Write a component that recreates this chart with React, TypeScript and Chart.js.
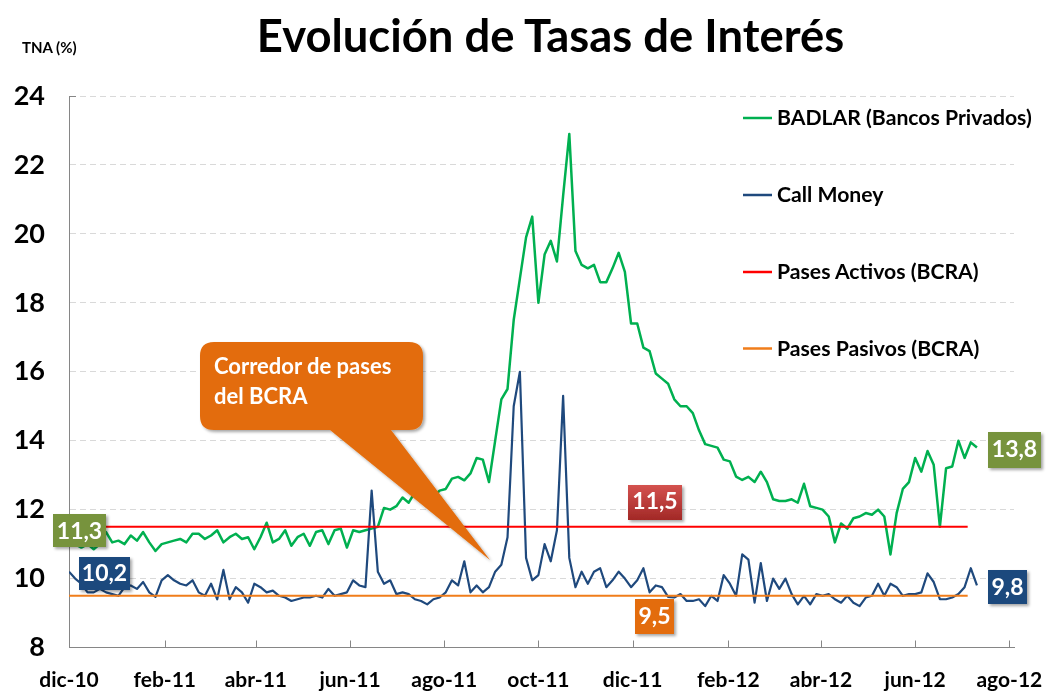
import React, { useEffect, useRef } from 'react';
import { Chart, registerables } from 'chart.js';

Chart.register(...registerables);

// Days counted from 1-dic-2010; observations sampled every 4 days
const OBS_STEP = 4;
const tickDays = [0, 62, 121, 182, 243, 304, 365, 427, 487, 548, 609];
const tickLabels = ['dic-10', 'feb-11', 'abr-11', 'jun-11', 'ago-11', 'oct-11', 'dic-11', 'feb-12', 'abr-12', 'jun-12', 'ago-12'];
const yTicks = [8, 10, 12, 14, 16, 18, 20, 22, 24];

const badlar = [
  11.3, 11.0, 10.9, 11.0, 10.85, 11.0, 11.35, 11.05, 11.1, 11.0,
  11.25, 11.1, 11.35, 11.05, 10.8, 11.0, 11.05, 11.1, 11.15, 11.05,
  11.3, 11.3, 11.15, 11.25, 11.4, 11.05, 11.2, 11.3, 11.15, 11.2,
  10.85, 11.2, 11.62, 11.05, 11.15, 11.4, 10.95, 11.2, 11.3, 10.95,
  11.35, 11.4, 11.0, 11.4, 11.45, 10.9, 11.4, 11.35, 11.4, 11.45,
  11.5, 12.05, 12.0, 12.1, 12.35, 12.2, 12.5, 12.45, 12.6, 12.4,
  12.55, 12.6, 12.9, 12.95, 12.85, 13.05, 13.5, 13.45, 12.8, 14.0,
  15.2, 15.5, 17.5, 18.7, 19.9, 20.5, 18.0, 19.4, 19.8, 19.2,
  21.1, 22.9, 19.5, 19.1, 19.0, 19.1, 18.6, 18.6, 19.0, 19.45,
  18.9, 17.4, 17.4, 16.7, 16.6, 15.95, 15.8, 15.65, 15.2, 15.0,
  15.0, 14.8, 14.3, 13.9, 13.85, 13.8, 13.45, 13.4, 12.96, 12.86,
  12.95, 12.8, 13.1, 12.8, 12.3, 12.25, 12.25, 12.3, 12.2, 12.75,
  12.1, 12.05, 12.0, 11.8, 11.05, 11.6, 11.45, 11.75, 11.8, 11.9,
  11.85, 12.0, 11.8, 10.7, 11.9, 12.6, 12.8, 13.5, 13.1, 13.7,
  13.3, 11.5, 13.2, 13.25, 14.0, 13.5, 13.95, 13.8,
];

const callMoney = [
  10.2, 10.0, 9.85, 9.6, 9.6, 9.7, 9.6, 9.55, 9.5, 9.75,
  9.8, 9.7, 9.9, 9.6, 9.47, 9.95, 10.1, 9.95, 9.85, 9.8,
  9.95, 9.6, 9.5, 9.85, 9.4, 10.25, 9.4, 9.75, 9.6, 9.3,
  9.85, 9.75, 9.6, 9.65, 9.5, 9.45, 9.35, 9.4, 9.45, 9.45,
  9.5, 9.45, 9.7, 9.5, 9.55, 9.6, 9.95, 9.8, 9.75, 12.55,
  10.2, 9.85, 9.95, 9.55, 9.6, 9.55, 9.4, 9.35, 9.25, 9.4,
  9.45, 9.6, 9.95, 9.8, 10.5, 9.6, 9.8, 9.6, 9.75, 10.2,
  10.4, 11.2, 15.0, 16.0, 10.6, 9.95, 10.1, 11.0, 10.5, 11.4,
  15.3, 10.6, 9.75, 10.2, 9.85, 10.2, 10.3, 9.75, 9.95, 10.2,
  10.0, 9.75, 9.95, 10.3, 9.6, 9.8, 9.75, 9.47, 9.45, 9.55,
  9.35, 9.35, 9.4, 9.2, 9.5, 9.35, 10.1, 9.85, 9.5, 10.7,
  10.55, 9.3, 10.45, 9.35, 10.0, 9.7, 10.0, 9.55, 9.25, 9.5,
  9.25, 9.55, 9.5, 9.55, 9.4, 9.3, 9.5, 9.3, 9.2, 9.45,
  9.5, 9.85, 9.5, 9.85, 9.75, 9.5, 9.55, 9.55, 9.6, 10.15,
  9.9, 9.4, 9.4, 9.45, 9.55, 9.75, 10.3, 9.8,
];

const pasesDays = [0, 582];
const pasesActivos = [11.5, 11.5];
const pasesPasivos = [9.5, 9.5];

const seriesNames = ['BADLAR (Bancos Privados)', 'Call Money', 'Pases Activos (BCRA)', 'Pases Pasivos (BCRA)'];
const seriesColors = ['#00B050', '#1F497D', '#FF0000', '#F07D1A'];

const fmt = (v: number) => v.toFixed(1).replace('.', ',');
const FONT = 'Lato';

const insideTicks = {
  id: 'insideTicks',
  afterDraw(chart: any) {
    const { ctx, chartArea, scales } = chart;
    ctx.save();
    ctx.strokeStyle = '#868686';
    ctx.lineWidth = 1;
    ctx.setLineDash([]);
    ctx.beginPath();
    tickDays.forEach((d) => {
      const x = Math.round(scales.x.getPixelForValue(d)) + 0.5;
      ctx.moveTo(x, chartArea.bottom);
      ctx.lineTo(x, chartArea.bottom - 7);
    });
    ctx.moveTo(chartArea.left, Math.round(chartArea.top) + 0.5);
    ctx.lineTo(chartArea.left + 7, Math.round(chartArea.top) + 0.5);
    ctx.stroke();
    ctx.restore();
  },
};

export default function App() {
  const canvasRef = useRef<HTMLCanvasElement | null>(null);

  useEffect(() => {
    const obsDays = badlar.map((_, i) => i * OBS_STEP);
    const chart = new Chart(canvasRef.current as HTMLCanvasElement, {
      type: 'line',
      data: {
        datasets: [
          {
            label: seriesNames[2],
            data: pasesDays.map((d, i) => ({ x: d, y: pasesActivos[i] })),
            borderColor: seriesColors[2],
            borderWidth: 2,
            order: 0,
          },
          {
            label: seriesNames[3],
            data: pasesDays.map((d, i) => ({ x: d, y: pasesPasivos[i] })),
            borderColor: seriesColors[3],
            borderWidth: 2,
            order: 1,
          },
          {
            label: seriesNames[1],
            data: obsDays.map((d, i) => ({ x: d, y: callMoney[i] })),
            borderColor: seriesColors[1],
            borderWidth: 2.2,
            order: 2,
          },
          {
            label: seriesNames[0],
            data: obsDays.map((d, i) => ({ x: d, y: badlar[i] })),
            borderColor: seriesColors[0],
            borderWidth: 2.5,
            order: 3,
          },
        ],
      },
      options: {
        responsive: false,
        animation: false,
        events: [],
        layout: { padding: { top: 96, right: 33, bottom: 0, left: 0 } },
        elements: {
          point: { radius: 0 },
          line: { tension: 0, borderJoinStyle: 'round', fill: false },
        },
        plugins: { legend: { display: false }, tooltip: { enabled: false }, title: { display: false } },
        scales: {
          x: {
            type: 'linear',
            min: 0,
            max: 612,
            afterBuildTicks: (s: any) => {
              s.ticks = tickDays.map((v) => ({ value: v }));
            },
            afterFit: (s: any) => {
              s.height = 43.5;
              s.paddingLeft = 0;
              s.paddingRight = 0;
            },
            ticks: {
              autoSkip: false,
              maxRotation: 0,
              padding: 20,
              color: '#000',
              font: { family: FONT, weight: 'bold', size: 21 },
              callback: (_v: any, i: number) => tickLabels[i] ?? '',
            },
            grid: { display: false, drawTicks: false },
            border: { display: true, color: '#868686', width: 1 },
          },
          y: {
            min: 8,
            max: 24,
            afterBuildTicks: (s: any) => {
              s.ticks = yTicks.map((v) => ({ value: v }));
            },
            afterFit: (s: any) => {
              s.width = 69;
              s.paddingTop = 0;
              s.paddingBottom = 0;
            },
            ticks: {
              padding: 24,
              color: '#000',
              font: { family: FONT, weight: 'bold', size: 27 },
            },
            grid: { color: '#D9D9D9', lineWidth: 1, drawTicks: false },
            border: { display: true, color: '#868686', width: 1, dash: [6, 4] },
          },
        },
      },
      plugins: [insideTicks],
    } as any);
    return () => chart.destroy();
  }, []);

  const legendY = [118, 195, 272, 348.5];
  const boxes = [
    { x: 53, y: 514, w: 53, h: 33, fill: '#77933C', text: fmt(badlar[0]), base: 539 },
    { x: 79, y: 557, w: 51, h: 33, fill: '#1F497D', text: fmt(callMoney[0]), base: 581 },
    { x: 628, y: 485, w: 54, h: 35, fill: 'url(#redg)', text: fmt(pasesActivos[0]), base: 509 },
    { x: 635, y: 599, w: 39, h: 35, fill: '#E36C09', text: fmt(pasesPasivos[0]), base: 624 },
    { x: 988, y: 570, w: 39, h: 34, fill: '#1F497D', text: fmt(callMoney[callMoney.length - 1]), base: 595 },
    { x: 988, y: 432, w: 53, h: 36, fill: '#77933C', text: fmt(badlar[badlar.length - 1]), base: 457 },
  ];

  return (
    <div style={{ position: 'fixed', left: 0, top: 0, width: 1047, height: 691, background: '#fff' }}>
      <canvas ref={canvasRef} width={1047} height={691} style={{ position: 'absolute', left: 0, top: 0 }} />
      <svg width={1047} height={691} style={{ position: 'absolute', left: 0, top: 0, pointerEvents: 'none' }}>
        <defs>
          <filter id="sh" x="-20%" y="-20%" width="150%" height="160%">
            <feDropShadow dx="2" dy="2" stdDeviation="1.8" floodColor="#000" floodOpacity="0.35" />
          </filter>
          <linearGradient id="redg" x1="0" y1="0" x2="0" y2="1">
            <stop offset="0" stopColor="#D4524F" />
            <stop offset="1" stopColor="#A22826" />
          </linearGradient>
        </defs>
        <text x={550.5} y={52} textAnchor="middle" fontFamily={FONT} fontWeight="bold" fontSize={45.4} fill="#000">
          Evolución de Tasas de Interés
        </text>
        <text x={22} y={53} fontFamily={FONT} fontWeight="bold" fontSize={15} fill="#000">
          TNA (%)
        </text>
        {seriesNames.map((name, i) => (
          <g key={name}>
            <line x1={743} x2={772} y1={legendY[i]} y2={legendY[i]} stroke={seriesColors[i]} strokeWidth={2.5} />
            <text x={777} y={legendY[i] + 7} fontFamily={FONT} fontWeight="bold" fontSize={21.2} fill="#000">
              {name}
            </text>
          </g>
        ))}
        <path
          d="M 214 342 H 409 Q 423 342 423 356 V 416 Q 423 430 409 430 H 391 L 490 560 L 330 430 H 214 Q 200 430 200 416 V 356 Q 200 342 214 342 Z"
          fill="#E36C09"
          filter="url(#sh)"
        />
        <text x={214} y={374} fontFamily={FONT} fontWeight="bold" fontSize={22} fill="#fff">
          Corredor de pases
        </text>
        <text x={214} y={404} fontFamily={FONT} fontWeight="bold" fontSize={22} fill="#fff">
          del BCRA
        </text>
        {boxes.map((b, i) => (
          <g key={i}>
            <rect x={b.x} y={b.y} width={b.w} height={b.h} fill={b.fill} filter="url(#sh)" />
            <text x={b.x + b.w / 2} y={b.base} textAnchor="middle" fontFamily={FONT} fontWeight="bold" fontSize={23} fill="#fff">
              {b.text}
            </text>
          </g>
        ))}
      </svg>
    </div>
  );
}
